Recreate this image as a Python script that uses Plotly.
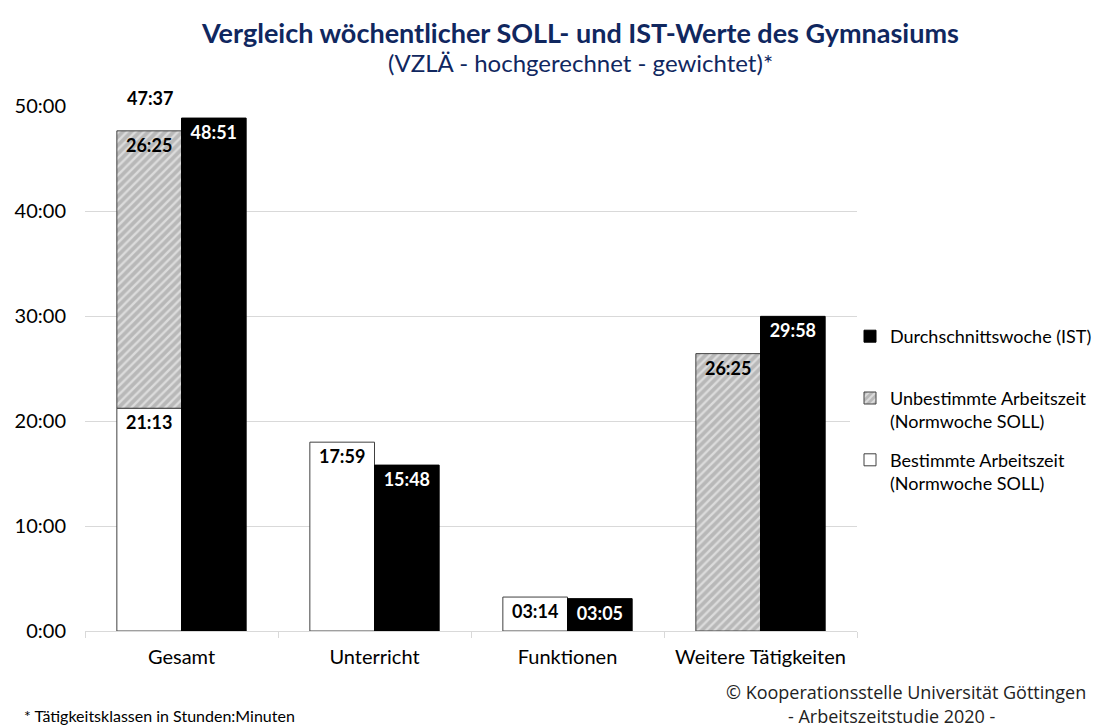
import plotly.graph_objects as go

# Tätigkeitsklassen (x-axis categories)
categories = ["Gesamt", "Unterricht", "Funktionen", "Weitere Tätigkeiten"]

# Weekly times as Stunden:Minuten; None = no segment for that category
soll_bestimmt = ["21:13", "17:59", "03:14", None]
soll_unbestimmt = ["26:25", None, None, "26:25"]
ist_durchschnitt = ["48:51", "15:48", "03:05", "29:58"]
soll_gesamt = ["47:37", None, None, None]

y_ticks = [0, 10, 20, 30, 40, 50]
y_ticktext = ["0:00", "10:00", "20:00", "30:00", "40:00", "50:00"]

FONT = "Lato"
NAVY = "#10275f"
W, H = 1100, 728
ML, MR, MT, MB = 85, 243, 106, 97
PW, PH = W - ML - MR, H - MT - MB


def to_hours(s):
    if s is None:
        return None
    h, m = s.split(":")
    return int(h) + int(m) / 60


def labels(vals):
    return [v if v is not None else "" for v in vals]


def px_x(px):
    # paper x from a pixel column of the figure
    return (px - ML) / PW


def px_y(py):
    # paper y from a pixel row of the figure (measured from the top)
    return (H - MB - py) / PH


bestimmt_h = [to_hours(v) for v in soll_bestimmt]
unbestimmt_h = [to_hours(v) for v in soll_unbestimmt]
ist_h = [to_hours(v) for v in ist_durchschnitt]
base_unbestimmt = [b if b is not None else 0 for b in bestimmt_h]

label_font = dict(family=FONT, size=18, weight="bold")

fig = go.Figure()

fig.add_trace(go.Bar(
    name="Bestimmte Arbeitszeit<br>(Normwoche SOLL)",
    x=categories, y=bestimmt_h, offsetgroup="soll", legendgroup="a",
    legendrank=3,
    marker=dict(color="white", line=dict(color="#404040", width=1)),
    text=labels(soll_bestimmt), textposition="inside", insidetextanchor="end",
    textfont=dict(label_font, color="black"), textangle=0,
    hoverinfo="skip",
))

fig.add_trace(go.Bar(
    name="Unbestimmte Arbeitszeit<br>(Normwoche SOLL)",
    x=categories, y=unbestimmt_h, base=base_unbestimmt, offsetgroup="soll",
    legendgroup="b", legendrank=2,
    marker=dict(color="#d0d0d0", line=dict(color="#404040", width=1),
                pattern=dict(shape="/", fgcolor="white", bgcolor="#b8b8b8",
                             size=6, solidity=0.4)),
    text=labels(soll_unbestimmt), textposition="inside", insidetextanchor="end",
    textfont=dict(label_font, color="black"), textangle=0,
    hoverinfo="skip",
))

fig.add_trace(go.Bar(
    name="Durchschnittswoche (IST)<br> ",
    x=categories, y=ist_h, offsetgroup="ist", legendgroup="c",
    legendrank=1,
    marker=dict(color="black", line=dict(color="black", width=1)),
    text=labels(ist_durchschnitt), textposition="inside", insidetextanchor="end",
    textfont=dict(label_font, color="white"), textangle=0,
    hoverinfo="skip",
))

# total SOLL value above the stacked bar
for cat, tot in zip(categories, soll_gesamt):
    if tot is None:
        continue
    fig.add_annotation(x=cat, y=to_hours(tot), text=f"<b>{tot}</b>",
                       showarrow=False, yanchor="bottom", xshift=-32, yshift=20,
                       font=dict(family=FONT, size=18, color="black"))

fig.add_annotation(x=px_x(580), xref="paper", xanchor="center",
                   y=px_y(33), yref="paper", yanchor="middle",
                   text="<b>Vergleich wöchentlicher SOLL- und IST-Werte des Gymnasiums</b>",
                   showarrow=False, font=dict(family=FONT, size=27, color=NAVY))
fig.add_annotation(x=px_x(580), xref="paper", xanchor="center",
                   y=px_y(63), yref="paper", yanchor="middle",
                   text="(VZLÄ - hochgerechnet - gewichtet)*",
                   showarrow=False, font=dict(family=FONT, size=24, color=NAVY))

fig.add_annotation(x=px_x(22), xref="paper", xanchor="left",
                   y=px_y(715), yref="paper", yanchor="middle",
                   text="* Tätigkeitsklassen in Stunden:Minuten",
                   showarrow=False, font=dict(family=FONT, size=16, color="black"))
fig.add_annotation(x=px_x(1088), xref="paper", xanchor="right",
                   y=px_y(692), yref="paper", yanchor="middle",
                   text="© Kooperationsstelle Universität Göttingen",
                   showarrow=False, font=dict(family="Open Sans", size=18, color="#222222"))
fig.add_annotation(x=px_x(892), xref="paper", xanchor="center",
                   y=px_y(716), yref="paper", yanchor="middle",
                   text="- Arbeitszeitstudie 2020 -",
                   showarrow=False, font=dict(family="Open Sans", size=18, color="#222222"))

fig.update_layout(
    width=W, height=H,
    margin=dict(l=ML, r=MR, t=MT, b=MB, autoexpand=False),
    paper_bgcolor="white", plot_bgcolor="white",
    barmode="group", bargap=0.33, bargroupgap=0,
    font=dict(family=FONT, size=20, color="black"),
    showlegend=True,
    legend=dict(xref="container", yref="container",
                x=850 / W, xanchor="left",
                y=1 - 318 / H, yanchor="top",
                traceorder="grouped", tracegroupgap=12, valign="top",
                font=dict(family=FONT, size=18, color="black"),
                itemwidth=30),
)

fig.update_xaxes(type="category", showgrid=False, showline=True,
                 linecolor="#d9d9d9", linewidth=1, ticks="outside",
                 tickson="boundaries", ticklen=6, tickcolor="#d9d9d9",
                 ticklabelstandoff=8,
                 tickfont=dict(family=FONT, size=20, color="black"))
fig.update_yaxes(range=[0, 50], tickvals=y_ticks, ticktext=y_ticktext,
                 showgrid=True, gridcolor="#d9d9d9", gridwidth=1,
                 zeroline=False, showline=False, ticks="",
                 ticklabelstandoff=18,
                 tickfont=dict(family=FONT, size=20, color="black"))

fig.write_html("out.html")
